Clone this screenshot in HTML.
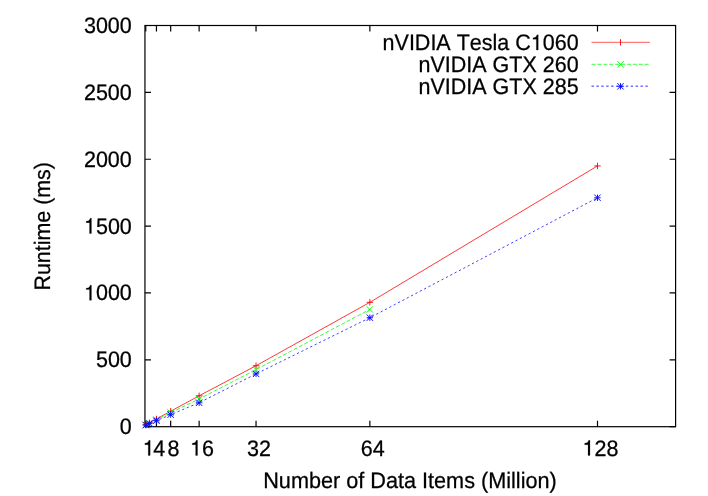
<!DOCTYPE html>
<html><head><meta charset="utf-8"><title>plot</title>
<style>
html,body{margin:0;padding:0;background:#fff;}
body{width:708px;height:496px;overflow:hidden;font-family:"Liberation Sans",sans-serif;}
svg{display:block}
text{font-family:"Liberation Sans",sans-serif;font-size:21.5px;fill:#000;stroke:#000;stroke-width:0.25px;font-kerning:none;text-rendering:geometricPrecision}
svg{will-change:transform;opacity:0.999}
.h{fill:none;stroke:none}
.g1{fill:#000;stroke:#000;stroke-width:0.2px}
</style></head><body>
<svg width="708" height="496" viewBox="0 0 708 496">
<rect width="708" height="496" fill="#fff"/>

<g fill="none" stroke="#000" stroke-width="1.2">
<rect x="144.95" y="25.50" width="530.65" height="401.20"/>
<path d="M144.95 426.70h6 M675.60 426.70h-6 M144.95 359.83h6 M675.60 359.83h-6 M144.95 292.97h6 M675.60 292.97h-6 M144.95 226.10h6 M675.60 226.10h-6 M144.95 159.23h6 M675.60 159.23h-6 M144.95 92.37h6 M675.60 92.37h-6 M144.95 25.50h6 M675.60 25.50h-6 M145.78 426.70v-6 M145.78 25.50v6 M156.45 426.70v-6 M156.45 25.50v6 M170.68 426.70v-6 M170.68 25.50v6 M199.13 426.70v-6 M199.13 25.50v6 M256.04 426.70v-6 M256.04 25.50v6 M369.86 426.70v-6 M369.86 25.50v6 M597.50 426.70v-6 M597.50 25.50v6 "/>
</g>
<g text-anchor="end">
<text transform="translate(131.80,434.10) scale(1,1.04)">0</text>
<text transform="translate(131.80,367.23) scale(1,1.04)">500</text>
<text transform="translate(131.80,300.37) scale(1,1.04)"><tspan class="h">1</tspan>000</text><path class="g1" transform="translate(83.96,300.37)" d="M5.57 0V-10.86H2.19V-12.21C3.96 -12.45 5.59 -12.69 6.24 -15.24H7.48V0Z"/>
<text transform="translate(131.80,233.50) scale(1,1.04)"><tspan class="h">1</tspan>500</text><path class="g1" transform="translate(83.96,233.50)" d="M5.57 0V-10.86H2.19V-12.21C3.96 -12.45 5.59 -12.69 6.24 -15.24H7.48V0Z"/>
<text transform="translate(131.80,166.63) scale(1,1.04)">2000</text>
<text transform="translate(131.80,99.77) scale(1,1.04)">2500</text>
<text transform="translate(131.80,32.90) scale(1,1.04)">3000</text>
</g>
<g text-anchor="middle">
<text transform="translate(148.68,455.50) scale(1,1.04)"><tspan class="h">1</tspan></text><path class="g1" transform="translate(142.69,455.50)" d="M5.57 0V-10.86H2.19V-12.21C3.96 -12.45 5.59 -12.69 6.24 -15.24H7.48V0Z"/>
<text transform="translate(159.35,455.50) scale(1,1.04)">4</text>
<text transform="translate(173.58,455.50) scale(1,1.04)">8</text>
<text transform="translate(202.03,455.50) scale(1,1.04)"><tspan class="h">1</tspan>6</text><path class="g1" transform="translate(190.07,455.50)" d="M5.57 0V-10.86H2.19V-12.21C3.96 -12.45 5.59 -12.69 6.24 -15.24H7.48V0Z"/>
<text transform="translate(258.94,455.50) scale(1,1.04)">32</text>
<text transform="translate(372.76,455.50) scale(1,1.04)">64</text>
<text transform="translate(600.40,455.50) scale(1,1.04)"><tspan class="h">1</tspan>28</text><path class="g1" transform="translate(582.47,455.50)" d="M5.57 0V-10.86H2.19V-12.21C3.96 -12.45 5.59 -12.69 6.24 -15.24H7.48V0Z"/>
<text transform="translate(410,487.7) scale(1.007,1.04)">Number of Data Items (Million)</text>
<text transform="translate(50.15,226.3) rotate(-90) scale(0.9955,1.04)">Runtime (ms)</text>
</g>
<g text-anchor="end">
<text transform="translate(578.60,50.10) scale(1,1.04)">nVIDIA Tesla C<tspan class="h">1</tspan>060</text><path class="g1" transform="translate(530.76,50.10)" d="M5.57 0V-10.86H2.19V-12.21C3.96 -12.45 5.59 -12.69 6.24 -15.24H7.48V0Z"/>
<text transform="translate(578.60,72.10) scale(1,1.04)">nVIDIA GTX 260</text>
<text transform="translate(578.60,94.10) scale(1,1.04)">nVIDIA GTX 285</text>
</g>
<g fill="none" stroke-width="0.78">
<path d="M591.5 42.3H649.9" stroke="#ff0000" stroke-width="0.66"/>
<path d="M591.5 64.3H649.2" stroke="#00ff00" stroke-width="0.75" stroke-dasharray="4.1 1.8"/>
<path d="M591.5 86.15H649.2" stroke="#0000ff" stroke-width="0.85" stroke-dasharray="2.4 2.5"/>
<path stroke-width="0.9" d="M620.50 39.10V45.50" stroke="#ff0000"/>
<path stroke-width="0.95" d="M617.30 61.10L623.70 67.50M617.30 67.50L623.70 61.10" stroke="#00ff00"/><path stroke-width="0.9" d="M617.30 86.30H623.70M620.50 83.10V89.50" stroke="#0000ff"/><path stroke-width="0.95" d="M617.30 83.10L623.70 89.50M617.30 89.50L623.70 83.10" stroke="#0000ff"/>
<polyline points="145.78,424.69 149.33,422.82 156.45,418.94 170.68,411.19 199.13,395.81 256.04,365.72 369.86,302.33 597.50,165.92" stroke="#ff0000"/>
<polyline points="145.78,424.83 149.33,423.09 156.45,419.61 170.68,412.66 199.13,399.02 256.04,369.60 369.86,309.42" stroke="#00ff00" stroke-dasharray="4.0 2.0" stroke-dashoffset="2.11"/>
<polyline points="145.78,425.10 149.33,423.62 156.45,420.68 170.68,414.66 199.13,402.76 256.04,373.88 369.86,317.71 597.50,197.75" stroke="#0000ff" stroke-width="0.74" stroke-dasharray="2.3 2.618" stroke-dashoffset="4.86"/>
<path stroke-width="0.9" d="M142.58 424.69H148.98M145.78 421.49V427.89" stroke="#ff0000"/>
<path stroke-width="0.9" d="M146.13 422.82H152.53M149.33 419.62V426.02" stroke="#ff0000"/>
<path stroke-width="0.9" d="M153.25 418.94H159.65M156.45 415.74V422.14" stroke="#ff0000"/>
<path stroke-width="0.9" d="M167.48 411.19H173.88M170.68 407.99V414.39" stroke="#ff0000"/>
<path stroke-width="0.9" d="M195.93 395.81H202.33M199.13 392.61V399.01" stroke="#ff0000"/>
<path stroke-width="0.9" d="M252.84 365.72H259.24M256.04 362.52V368.92" stroke="#ff0000"/>
<path stroke-width="0.9" d="M366.66 302.33H373.06M369.86 299.13V305.53" stroke="#ff0000"/>
<path stroke-width="0.9" d="M594.30 165.92H600.70M597.50 162.72V169.12" stroke="#ff0000"/>
<path stroke-width="0.95" d="M142.58 421.63L148.98 428.03M142.58 428.03L148.98 421.63" stroke="#00ff00"/>
<path stroke-width="0.95" d="M146.13 419.89L152.53 426.29M146.13 426.29L152.53 419.89" stroke="#00ff00"/>
<path stroke-width="0.95" d="M153.25 416.41L159.65 422.81M153.25 422.81L159.65 416.41" stroke="#00ff00"/>
<path stroke-width="0.95" d="M167.48 409.46L173.88 415.86M167.48 415.86L173.88 409.46" stroke="#00ff00"/>
<path stroke-width="0.95" d="M195.93 395.82L202.33 402.22M195.93 402.22L202.33 395.82" stroke="#00ff00"/>
<path stroke-width="0.95" d="M252.84 366.40L259.24 372.80M252.84 372.80L259.24 366.40" stroke="#00ff00"/>
<path stroke-width="0.95" d="M366.66 306.22L373.06 312.62M366.66 312.62L373.06 306.22" stroke="#00ff00"/>
<path stroke-width="0.9" d="M142.58 425.10H148.98M145.78 421.90V428.30" stroke="#0000ff"/><path stroke-width="0.95" d="M142.58 421.90L148.98 428.30M142.58 428.30L148.98 421.90" stroke="#0000ff"/>
<path stroke-width="0.9" d="M146.13 423.62H152.53M149.33 420.42V426.82" stroke="#0000ff"/><path stroke-width="0.95" d="M146.13 420.42L152.53 426.82M146.13 426.82L152.53 420.42" stroke="#0000ff"/>
<path stroke-width="0.9" d="M153.25 420.68H159.65M156.45 417.48V423.88" stroke="#0000ff"/><path stroke-width="0.95" d="M153.25 417.48L159.65 423.88M153.25 423.88L159.65 417.48" stroke="#0000ff"/>
<path stroke-width="0.9" d="M167.48 414.66H173.88M170.68 411.46V417.86" stroke="#0000ff"/><path stroke-width="0.95" d="M167.48 411.46L173.88 417.86M167.48 417.86L173.88 411.46" stroke="#0000ff"/>
<path stroke-width="0.9" d="M195.93 402.76H202.33M199.13 399.56V405.96" stroke="#0000ff"/><path stroke-width="0.95" d="M195.93 399.56L202.33 405.96M195.93 405.96L202.33 399.56" stroke="#0000ff"/>
<path stroke-width="0.9" d="M252.84 373.88H259.24M256.04 370.68V377.08" stroke="#0000ff"/><path stroke-width="0.95" d="M252.84 370.68L259.24 377.08M252.84 377.08L259.24 370.68" stroke="#0000ff"/>
<path stroke-width="0.9" d="M366.66 317.71H373.06M369.86 314.51V320.91" stroke="#0000ff"/><path stroke-width="0.95" d="M366.66 314.51L373.06 320.91M366.66 320.91L373.06 314.51" stroke="#0000ff"/>
<path stroke-width="0.9" d="M594.30 197.75H600.70M597.50 194.55V200.95" stroke="#0000ff"/><path stroke-width="0.95" d="M594.30 194.55L600.70 200.95M594.30 200.95L600.70 194.55" stroke="#0000ff"/>
</g>
</svg>
</body></html>
